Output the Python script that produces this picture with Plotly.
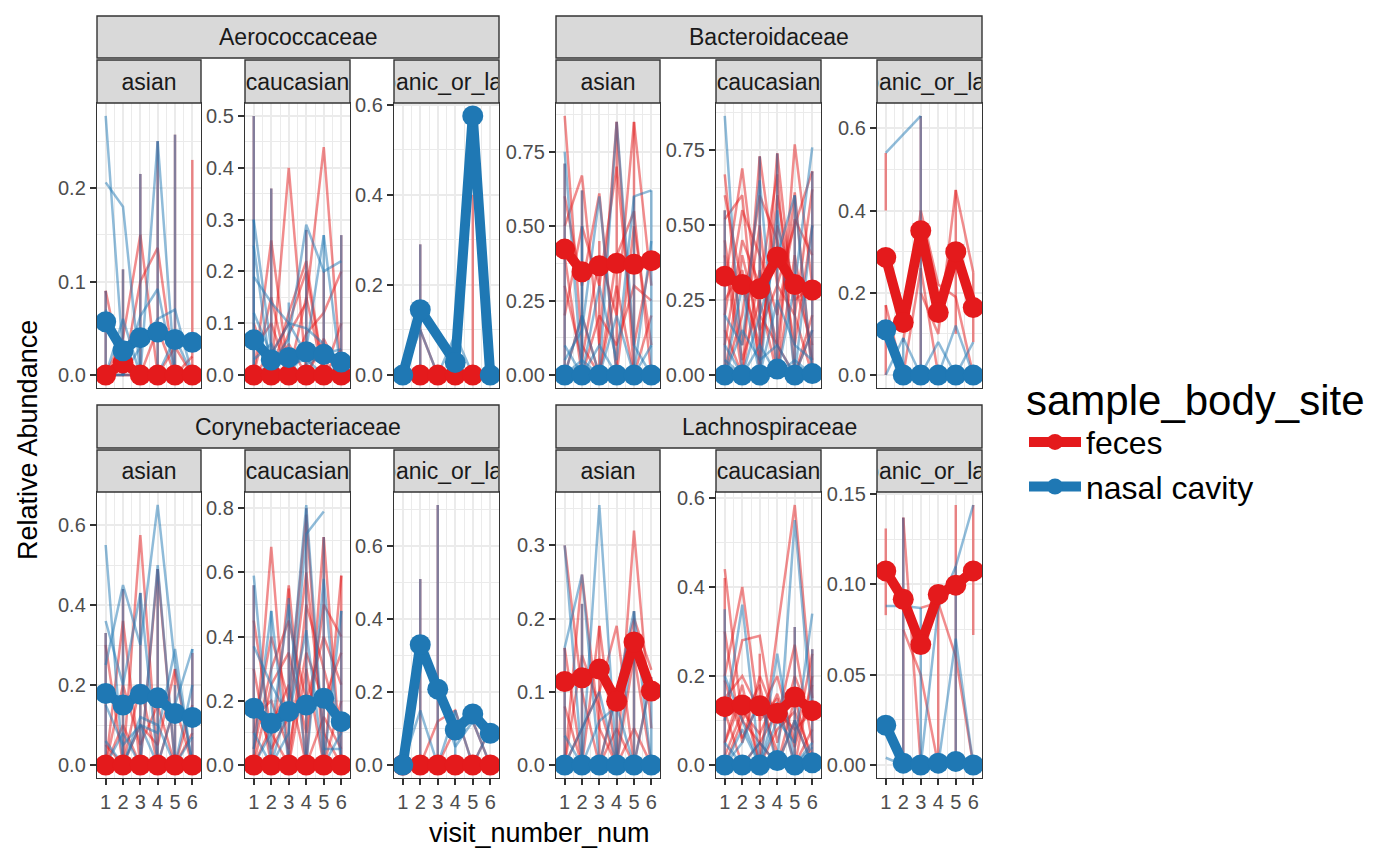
import plotly.graph_objects as go

W, H = 1400, 866
FONT = "Liberation Sans, Arial, sans-serif"
RED = "#E41A1C"
BLUE = "#1F78B4"
RED_THIN = "rgba(228,26,28,0.5)"
BLUE_THIN = "rgba(31,120,180,0.5)"

FAMILIES = ["Aerococcaceae", "Bacteroidaceae", "Corynebacteriaceae", "Lachnospiraceae"]
ETHNICITIES = ["asian", "caucasian", "hispanic_or_latino"]
VISITS = [1, 2, 3, 4, 5, 6]

# ---- mean relative abundance per visit (thick lines) ----
aero_asian_feces_mean = [0.0, 0.013, 0.0, 0.0, 0.0, 0.0]
aero_asian_nasal_mean = [0.057, 0.026, 0.040, 0.046, 0.038, 0.035]
aero_cauc_feces_mean = [0.0, 0.0, 0.0, 0.0, 0.0, 0.0]
aero_cauc_nasal_mean = [0.068, 0.029, 0.034, 0.045, 0.040, 0.025]
aero_hisp_feces_mean = [None, 0.0, 0.0, 0.0, 0.0, None]
aero_hisp_nasal_mean = [0.0, 0.145, None, 0.028, 0.575, 0.0]

bact_asian_feces_mean = [0.423, 0.347, 0.367, 0.375, 0.372, 0.384]
bact_asian_nasal_mean = [0.0, 0.0, 0.0, 0.0, 0.0, 0.0]
bact_cauc_feces_mean = [0.330, 0.302, 0.288, 0.394, 0.302, 0.284]
bact_cauc_nasal_mean = [0.0, 0.0, 0.0, 0.02, 0.0, 0.005]
bact_hisp_feces_mean = [0.286, 0.128, 0.351, 0.152, 0.300, 0.164]
bact_hisp_nasal_mean = [0.11, 0.0, 0.0, 0.0, 0.0, 0.0]

cory_asian_feces_mean = [0.0, 0.0, 0.0, 0.0, 0.0, 0.0]
cory_asian_nasal_mean = [0.179, 0.150, 0.177, 0.168, 0.129, 0.119]
cory_cauc_feces_mean = [0.0, 0.0, 0.0, 0.0, 0.0, 0.0]
cory_cauc_nasal_mean = [0.177, 0.130, 0.167, 0.187, 0.208, 0.135]
cory_hisp_feces_mean = [0.0, 0.0, 0.0, 0.0, 0.0, 0.0]
cory_hisp_nasal_mean = [0.0, 0.330, 0.208, 0.096, 0.140, 0.087]

lach_asian_feces_mean = [0.114, 0.119, 0.131, 0.087, 0.168, 0.101]
lach_asian_nasal_mean = [0.0, 0.0, 0.0, 0.0, 0.0, 0.0]
lach_cauc_feces_mean = [0.131, 0.135, 0.133, 0.116, 0.153, 0.122]
lach_cauc_nasal_mean = [0.0, 0.0, 0.0, 0.01, 0.0, 0.005]
lach_hisp_feces_mean = [0.1075, 0.0918, 0.0667, 0.0945, 0.0996, 0.1075]
lach_hisp_nasal_mean = [0.022, 0.001, 0.0, 0.001, 0.002, 0.0]

# ---- individual subjects (thin lines), one row per subject, visits 1..6 ----
aero_asian_feces_rows = [
    [0.09, 0.0, 0.0, 0.0, 0.0, 0.0],
    [0.0, 0.04, 0.15, 0.0, 0.0, 0.0],
    [0.0, 0.0, 0.10, 0.136, 0.0, 0.0],
    [0.0, 0.0, 0.0, 0.05, 0.0, 0.02],
    [0.0, 0.02, 0.0, 0.0, 0.03, 0.0],
]
aero_asian_nasal_rows = [
    [0.277, 0.02, 0.0, 0.0, 0.0, 0.0],
    [0.206, 0.18, 0.0, 0.0, 0.0, 0.0],
    [0.07, 0.0, 0.03, 0.06, 0.07, 0.0],
    [0.0, 0.0, 0.063, 0.092, 0.0, 0.0],
    [0.0, 0.06, 0.0, 0.25, 0.0, 0.0],
    [0.0, 0.0, 0.0, 0.0, 0.04, 0.0],
]
aero_cauc_feces_rows = [
    [0.0, 0.26, 0.0, 0.0, 0.0, 0.0],
    [0.0, 0.0, 0.40, 0.0, 0.0, 0.0],
    [0.05, 0.10, 0.0, 0.15, 0.0, 0.0],
    [0.0, 0.04, 0.10, 0.20, 0.0, 0.05],
    [0.0, 0.0, 0.08, 0.14, 0.44, 0.0],
    [0.0, 0.02, 0.0, 0.08, 0.12, 0.20],
    [0.10, 0.0, 0.06, 0.0, 0.06, 0.0],
    [0.0, 0.0, 0.12, 0.22, 0.0, 0.10],
    [0.0, 0.15, 0.0, 0.0, 0.07, 0.0],
]
aero_cauc_nasal_rows = [
    [0.19, 0.14, 0.10, 0.09, 0.06, 0.01],
    [0.30, 0.05, 0.02, 0.03, 0.0, 0.0],
    [0.12, 0.04, 0.10, 0.04, 0.02, 0.0],
    [0.0, 0.02, 0.07, 0.29, 0.20, 0.22],
    [0.25, 0.0, 0.0, 0.05, 0.27, 0.0],
    [0.03, 0.06, 0.0, 0.02, 0.04, 0.05],
]
aero_hisp_feces_rows = [
    [None, 0.10, 0.0, 0.0, 0.0, None],
]
aero_hisp_nasal_rows = [
    [0.0, 0.10, 0.0, 0.09, 0.0, 0.0],
]

bact_asian_feces_rows = [
    [0.87, 0.10, 0.0, 0.30, 0.0, 0.20],
    [0.60, 0.30, 0.61, 0.0, 0.50, 0.10],
    [0.50, 0.67, 0.10, 0.85, 0.0, 0.0],
    [0.30, 0.05, 0.40, 0.20, 0.85, 0.30],
    [0.20, 0.50, 0.30, 0.70, 0.10, 0.40],
    [0.0, 0.20, 0.0, 0.40, 0.55, 0.0],
    [0.40, 0.0, 0.20, 0.10, 0.30, 0.25],
]
bact_asian_nasal_rows = [
    [0.75, 0.0, 0.10, 0.0, 0.0, 0.0],
    [0.05, 0.15, 0.60, 0.0, 0.0, 0.10],
    [0.0, 0.20, 0.0, 0.85, 0.10, 0.0],
    [0.10, 0.0, 0.30, 0.05, 0.60, 0.62],
    [0.0, 0.05, 0.0, 0.20, 0.0, 0.45],
]
bact_cauc_feces_rows = [
    [0.67, 0.10, 0.50, 0.0, 0.77, 0.30],
    [0.52, 0.60, 0.0, 0.74, 0.20, 0.62],
    [0.30, 0.69, 0.20, 0.10, 0.61, 0.0],
    [0.40, 0.0, 0.73, 0.30, 0.50, 0.68],
    [0.10, 0.45, 0.30, 0.67, 0.0, 0.20],
    [0.60, 0.30, 0.10, 0.50, 0.30, 0.10],
    [0.20, 0.55, 0.40, 0.20, 0.52, 0.40],
    [0.0, 0.20, 0.60, 0.45, 0.10, 0.50],
    [0.45, 0.05, 0.25, 0.0, 0.40, 0.05],
    [0.25, 0.35, 0.05, 0.60, 0.25, 0.30],
    [0.15, 0.0, 0.35, 0.10, 0.0, 0.15],
    [0.0, 0.40, 0.15, 0.30, 0.20, 0.0],
]
bact_cauc_nasal_rows = [
    [0.865, 0.0, 0.10, 0.0, 0.05, 0.0],
    [0.20, 0.10, 0.65, 0.0, 0.30, 0.76],
    [0.0, 0.30, 0.0, 0.55, 0.0, 0.15],
    [0.10, 0.0, 0.20, 0.40, 0.60, 0.0],
    [0.0, 0.15, 0.05, 0.10, 0.0, 0.50],
    [0.05, 0.0, 0.0, 0.25, 0.10, 0.05],
]
bact_hisp_feces_rows = [
    [0.17, 0.0, 0.26, 0.0, 0.0, 0.0],
    [None, 0.08, 0.40, 0.22, 0.19, 0.0],
    [None, None, 0.20, 0.10, 0.45, 0.25],
]
bact_hisp_nasal_rows = [
    [0.54, None, 0.63, None, None, None],
    [0.0, 0.09, 0.0, 0.08, 0.0, 0.08],
    [0.11, 0.0, 0.0, 0.0, 0.12, 0.0],
]

cory_asian_feces_rows = [
    [0.0, 0.36, 0.0, 0.0, 0.0, 0.0],
    [0.0, 0.0, 0.575, 0.0, 0.15, 0.0],
    [0.30, 0.0, 0.20, 0.0, 0.0, 0.15],
    [0.0, 0.10, 0.0, 0.49, 0.0, 0.0],
    [0.05, 0.0, 0.10, 0.05, 0.24, 0.0],
    [0.0, 0.20, 0.05, 0.15, 0.0, 0.08],
]
cory_asian_nasal_rows = [
    [0.55, 0.0, 0.10, 0.0, 0.0, 0.0],
    [0.36, 0.20, 0.43, 0.0, 0.15, 0.29],
    [0.25, 0.45, 0.30, 0.65, 0.25, 0.0],
    [0.06, 0.0, 0.12, 0.10, 0.0, 0.07],
    [0.0, 0.08, 0.0, 0.50, 0.0, 0.20],
    [0.15, 0.05, 0.10, 0.08, 0.29, 0.0],
]
cory_cauc_feces_rows = [
    [0.0, 0.68, 0.0, 0.30, 0.0, 0.20],
    [0.30, 0.0, 0.56, 0.0, 0.71, 0.0],
    [0.10, 0.40, 0.20, 0.78, 0.0, 0.59],
    [0.45, 0.10, 0.0, 0.50, 0.30, 0.10],
    [0.0, 0.25, 0.35, 0.10, 0.50, 0.40],
    [0.20, 0.05, 0.15, 0.60, 0.10, 0.0],
    [0.05, 0.30, 0.45, 0.20, 0.40, 0.25],
    [0.15, 0.20, 0.05, 0.35, 0.20, 0.35],
    [0.0, 0.12, 0.25, 0.0, 0.15, 0.05],
]
cory_cauc_nasal_rows = [
    [0.59, 0.0, 0.10, 0.72, 0.79, None],
    [0.37, 0.25, 0.15, 0.42, 0.0, 0.10],
    [0.05, 0.48, 0.0, 0.0, 0.58, 0.0],
    [0.0, 0.10, 0.50, 0.0, 0.0, 0.48],
    [0.10, 0.0, 0.20, 0.81, 0.05, 0.05],
]
cory_hisp_feces_rows = [
    [0.0, 0.0, 0.12, 0.15, 0.0, 0.10],
    [None, 0.02, 0.0, 0.10, 0.12, 0.0],
]
cory_hisp_nasal_rows = [
    [0.0, 0.15, 0.0, 0.15, 0.0, 0.10],
    [0.0, 0.33, 0.20, 0.05, 0.12, 0.0],
]

lach_asian_feces_rows = [
    [0.30, 0.10, 0.0, 0.05, 0.0, 0.0],
    [0.0, 0.26, 0.05, 0.0, 0.15, 0.0],
    [0.16, 0.0, 0.19, 0.0, 0.32, 0.05],
    [0.0, 0.05, 0.10, 0.19, 0.0, 0.12],
    [0.08, 0.0, 0.0, 0.10, 0.20, 0.13],
    [0.0, 0.15, 0.08, 0.0, 0.05, 0.0],
]
lach_asian_nasal_rows = [
    [0.30, 0.0, 0.0, 0.0, 0.0, 0.0],
    [0.0, 0.0, 0.355, 0.0, 0.0, 0.0],
    [0.16, 0.26, 0.0, 0.10, 0.21, 0.0],
    [0.0, 0.05, 0.10, 0.0, 0.18, 0.10],
    [0.04, 0.0, 0.06, 0.08, 0.0, 0.12],
]
lach_cauc_feces_rows = [
    [0.44, 0.10, 0.05, 0.0, 0.10, 0.0],
    [0.20, 0.40, 0.10, 0.15, 0.0, 0.20],
    [0.10, 0.28, 0.29, 0.05, 0.20, 0.10],
    [0.05, 0.15, 0.0, 0.30, 0.584, 0.15],
    [0.30, 0.05, 0.20, 0.10, 0.27, 0.05],
    [0.15, 0.20, 0.12, 0.20, 0.05, 0.25],
    [0.0, 0.10, 0.18, 0.0, 0.15, 0.0],
    [0.12, 0.0, 0.05, 0.12, 0.08, 0.12],
    [0.05, 0.18, 0.0, 0.08, 0.12, 0.02],
    [0.19, 0.06, 0.14, 0.03, 0.0, 0.08],
    [0.02, 0.12, 0.07, 0.16, 0.04, 0.18],
]
lach_cauc_nasal_rows = [
    [0.10, 0.36, 0.0, 0.25, 0.0, 0.05],
    [0.0, 0.05, 0.15, 0.0, 0.55, 0.10],
    [0.20, 0.10, 0.0, 0.10, 0.05, 0.34],
    [0.05, 0.0, 0.05, 0.0, 0.10, 0.0],
    [0.0, 0.08, 0.0, 0.14, 0.0, 0.04],
]
lach_hisp_feces_rows = [
    [None, 0.075, 0.05, 0.0, None, None],
    [None, None, 0.087, 0.09, 0.06, 0.0],
    [None, 0.137, 0.0, None, None, None],
]
lach_hisp_nasal_rows = [
    [0.088, 0.088, 0.087, None, None, None],
    [0.004, 0.0, 0.0, 0.087, 0.11, 0.144],
    [None, None, 0.0, 0.0, 0.07, 0.0],
]

# ---- repeated samples within one visit: [visit, low, high] ----
aero_asian_feces_spikes = [[1, 0, 0.09], [2, 0, 0.113], [3, 0, 0.215], [4, 0, 0.25], [5, 0, 0.257], [6, 0, 0.23]]
aero_asian_nasal_spikes = [[1, 0, 0.09], [2, 0, 0.113], [3, 0, 0.215], [4, 0, 0.25], [5, 0, 0.257]]
aero_cauc_feces_spikes = [[1, 0, 0.5], [2, 0, 0.36], [4, 0, 0.28], [5, 0, 0.2], [6, 0, 0.27]]
aero_cauc_nasal_spikes = [[1, 0, 0.5], [1, 0, 0.3], [2, 0, 0.36], [3, 0, 0.14], [4, 0, 0.28], [5, 0, 0.27], [6, 0, 0.27]]
aero_hisp_feces_spikes = [[2, 0, 0.29], [5, 0, 0.40]]
aero_hisp_nasal_spikes = [[2, 0, 0.29]]

bact_asian_feces_spikes = [[1, 0, 0.71], [2, 0, 0.62], [3, 0, 0.45], [4, 0, 0.85], [5, 0, 0.85]]
bact_asian_nasal_spikes = [[1, 0, 0.71], [2, 0, 0.62], [2, 0, 0.50], [5, 0, 0.60], [6, 0, 0.62]]
bact_cauc_feces_spikes = [[1, 0, 0.55], [3, 0, 0.73], [4, 0, 0.74], [5, 0, 0.60], [6, 0, 0.68]]
bact_cauc_nasal_spikes = [[1, 0, 0.55], [3, 0, 0.73], [4, 0, 0.74], [5, 0, 0.60], [6, 0, 0.68]]
bact_hisp_feces_spikes = [[1, 0.40, 0.54], [1, 0, 0.17], [3, 0, 0.63], [5, 0.10, 0.45], [6, 0.08, 0.25]]
bact_hisp_nasal_spikes = [[3, 0, 0.63], [2, 0, 0.09]]

cory_asian_feces_spikes = [[1, 0, 0.33], [2, 0, 0.44], [3, 0, 0.43], [4, 0, 0.49], [5, 0, 0.24], [6, 0, 0.28]]
cory_asian_nasal_spikes = [[1, 0, 0.33], [2, 0, 0.44], [3, 0, 0.43], [4, 0, 0.49], [5, 0, 0.20], [6, 0, 0.29]]
cory_cauc_feces_spikes = [[1, 0, 0.56], [3, 0, 0.55], [4, 0, 0.80], [5, 0, 0.71], [6, 0, 0.59]]
cory_cauc_nasal_spikes = [[1, 0, 0.56], [2, 0, 0.48], [3, 0, 0.52], [4, 0, 0.80], [5, 0, 0.71], [6, 0, 0.48]]
cory_hisp_feces_spikes = [[2, 0, 0.51], [3, 0, 0.713]]
cory_hisp_nasal_spikes = [[2, 0, 0.51], [3, 0, 0.713], [4, 0, 0.15]]

lach_asian_feces_spikes = [[1, 0, 0.16], [2, 0, 0.22], [3, 0, 0.19], [4, 0, 0.10], [5, 0, 0.21]]
lach_asian_nasal_spikes = [[1, 0, 0.16], [2, 0, 0.22], [4, 0, 0.10], [5, 0, 0.21], [6, 0, 0.10]]
lach_cauc_feces_spikes = [[1, 0, 0.42], [3, 0, 0.25], [5, 0, 0.31], [6, 0, 0.26]]
lach_cauc_nasal_spikes = [[1, 0, 0.35], [5, 0, 0.31], [6, 0, 0.26]]
lach_hisp_feces_spikes = [[1, 0.083, 0.131], [2, 0, 0.137], [4, 0, 0.09], [5, 0, 0.144], [6, 0.072, 0.144]]
lach_hisp_nasal_spikes = [[2, 0, 0.137], [3, 0, 0.087], [5, 0, 0.11]]

PANELS = [
    ("Aerococcaceae", "asian", aero_asian_feces_mean, aero_asian_nasal_mean, aero_asian_feces_rows, aero_asian_nasal_rows, aero_asian_feces_spikes, aero_asian_nasal_spikes),
    ("Aerococcaceae", "caucasian", aero_cauc_feces_mean, aero_cauc_nasal_mean, aero_cauc_feces_rows, aero_cauc_nasal_rows, aero_cauc_feces_spikes, aero_cauc_nasal_spikes),
    ("Aerococcaceae", "hispanic_or_latino", aero_hisp_feces_mean, aero_hisp_nasal_mean, aero_hisp_feces_rows, aero_hisp_nasal_rows, aero_hisp_feces_spikes, aero_hisp_nasal_spikes),
    ("Bacteroidaceae", "asian", bact_asian_feces_mean, bact_asian_nasal_mean, bact_asian_feces_rows, bact_asian_nasal_rows, bact_asian_feces_spikes, bact_asian_nasal_spikes),
    ("Bacteroidaceae", "caucasian", bact_cauc_feces_mean, bact_cauc_nasal_mean, bact_cauc_feces_rows, bact_cauc_nasal_rows, bact_cauc_feces_spikes, bact_cauc_nasal_spikes),
    ("Bacteroidaceae", "hispanic_or_latino", bact_hisp_feces_mean, bact_hisp_nasal_mean, bact_hisp_feces_rows, bact_hisp_nasal_rows, bact_hisp_feces_spikes, bact_hisp_nasal_spikes),
    ("Corynebacteriaceae", "asian", cory_asian_feces_mean, cory_asian_nasal_mean, cory_asian_feces_rows, cory_asian_nasal_rows, cory_asian_feces_spikes, cory_asian_nasal_spikes),
    ("Corynebacteriaceae", "caucasian", cory_cauc_feces_mean, cory_cauc_nasal_mean, cory_cauc_feces_rows, cory_cauc_nasal_rows, cory_cauc_feces_spikes, cory_cauc_nasal_spikes),
    ("Corynebacteriaceae", "hispanic_or_latino", cory_hisp_feces_mean, cory_hisp_nasal_mean, cory_hisp_feces_rows, cory_hisp_nasal_rows, cory_hisp_feces_spikes, cory_hisp_nasal_spikes),
    ("Lachnospiraceae", "asian", lach_asian_feces_mean, lach_asian_nasal_mean, lach_asian_feces_rows, lach_asian_nasal_rows, lach_asian_feces_spikes, lach_asian_nasal_spikes),
    ("Lachnospiraceae", "caucasian", lach_cauc_feces_mean, lach_cauc_nasal_mean, lach_cauc_feces_rows, lach_cauc_nasal_rows, lach_cauc_feces_spikes, lach_cauc_nasal_spikes),
    ("Lachnospiraceae", "hispanic_or_latino", lach_hisp_feces_mean, lach_hisp_nasal_mean, lach_hisp_feces_rows, lach_hisp_nasal_rows, lach_hisp_feces_spikes, lach_hisp_nasal_spikes),
]

# y tick step and format per panel (same order as PANELS)
Y_DTICK = [0.1, 0.1, 0.2, 0.25, 0.25, 0.2, 0.2, 0.2, 0.2, 0.1, 0.2, 0.05]
Y_FMT = [".1f", ".1f", ".1f", ".2f", ".2f", ".1f", ".1f", ".1f", ".1f", ".1f", ".1f", ".2f"]

# layout in pixels
COL_X = [(97, 201), (245, 350), (394, 499), (556, 660), (716, 821), (877, 982)]
GROUP_X = [(97, 499), (556, 982)]
ROW_PLOT_Y = [(103, 388), (492, 778)]
ROW_FAM_Y = [(16, 58), (405, 448)]
ROW_SUB_Y = [(60, 103), (450, 492)]


def px_x(p):
    return p / W


def px_y(p):
    return 1 - p / H


def thin_xy(rows, spikes):
    xs, ys = [], []
    for row in rows:
        for v, val in zip(VISITS, row):
            if val is not None:
                xs.append(v)
                ys.append(val)
        xs.append(None)
        ys.append(None)
    for x, y0, y1 in spikes:
        xs += [x, x, None]
        ys += [y0, y1, None]
    return xs, ys


def all_values(*groups):
    out = []
    for g in groups:
        for item in g:
            if isinstance(item, list):
                out += [v for v in item if v is not None]
            elif item is not None:
                out.append(item)
    return out


fig = go.Figure()
shapes = []
annotations = []
mean_traces = []

for i, (fam, eth, f_mean, n_mean, f_rows, n_rows, f_sp, n_sp) in enumerate(PANELS):
    k = "" if i == 0 else str(i + 1)
    fi = FAMILIES.index(fam)
    ei = ETHNICITIES.index(eth)
    row = fi // 2
    group = fi % 2
    col = group * 3 + ei
    x0, x1 = COL_X[col]
    y0, y1 = ROW_PLOT_Y[row]

    # thin subject lines
    for rows, spikes, color in ((f_rows, f_sp, RED_THIN), (n_rows, n_sp, BLUE_THIN)):
        xs, ys = thin_xy(rows, spikes)
        fig.add_trace(go.Scatter(x=xs, y=ys, mode="lines", line=dict(color=color, width=2.5),
                                 xaxis="x" + k, yaxis="y" + k, showlegend=False, hoverinfo="skip"))

    # means (drawn after all thin lines)
    for mean, color, name in ((f_mean, RED, "feces"), (n_mean, BLUE, "nasal cavity")):
        xs = [v for v, m in zip(VISITS, mean) if m is not None]
        ys = [m for m in mean if m is not None]
        mean_traces.append(go.Scatter(x=xs, y=ys, mode="lines+markers", name=name,
                                      line=dict(color=color, width=10),
                                      marker=dict(color=color, size=21),
                                      xaxis="x" + k, yaxis="y" + k,
                                      legendgroup=name, showlegend=(i == 0)))

    # axis ranges like ggplot (5% expansion)
    vals = all_values(f_mean, n_mean, f_rows, n_rows) + [s[2] for s in f_sp + n_sp]
    top = max(vals)
    lo, hi = -0.05 * top, 1.05 * top
    bottom_row = row == 1
    dt = Y_DTICK[i]

    fig.layout["xaxis" + k] = dict(
        domain=[px_x(x0), px_x(x1)], anchor="y" + k, range=[0.5, 6.5],
        tickmode="array", tickvals=VISITS, ticktext=[str(v) for v in VISITS],
        showticklabels=bottom_row, ticks="outside" if bottom_row else "",
        ticklen=6, tickwidth=2, tickcolor="#333333",
        tickfont=dict(size=20, color="#4D4D4D", family=FONT),
        showgrid=True, gridcolor="#EBEBEB", gridwidth=2.2,
        minor=dict(tickmode="array", tickvals=[1.5, 2.5, 3.5, 4.5, 5.5],
                   showgrid=True, gridcolor="#EBEBEB", gridwidth=1.1),
        showline=True, mirror=True, linecolor="#333333", linewidth=1.4,
        zeroline=False, fixedrange=True, automargin=False,
    )
    fig.layout["yaxis" + k] = dict(
        domain=[px_y(y1), px_y(y0)], anchor="x" + k, range=[lo, hi],
        tickmode="linear", tick0=0, dtick=dt, tickformat=Y_FMT[i],
        ticks="outside", ticklen=6, tickwidth=2, tickcolor="#333333",
        tickfont=dict(size=20, color="#4D4D4D", family=FONT),
        showgrid=True, gridcolor="#EBEBEB", gridwidth=2.2,
        minor=dict(tick0=dt / 2, dtick=dt, showgrid=True, gridcolor="#EBEBEB", gridwidth=1.1),
        showline=True, mirror=True, linecolor="#333333", linewidth=1.4,
        zeroline=False, fixedrange=True, automargin=False,
    )

    # ethnicity strip
    sy0, sy1 = ROW_SUB_Y[row]
    shapes.append(dict(type="rect", xref="paper", yref="paper",
                       x0=px_x(x0), x1=px_x(x1), y0=px_y(sy1), y1=px_y(sy0),
                       fillcolor="#D9D9D9", line=dict(color="#333333", width=1.4), layer="above"))
    annotations.append(dict(text=eth, xref="paper", yref="paper",
                            x=px_x((x0 + x1) / 2), y=px_y((sy0 + sy1) / 2),
                            xanchor="center", yanchor="middle", showarrow=False,
                            width=x1 - x0 - 2, align="center",
                            font=dict(size=23, color="#1A1A1A", family=FONT)))

# family strips
for fi, fam in enumerate(FAMILIES):
    row = fi // 2
    gx0, gx1 = GROUP_X[fi % 2]
    fy0, fy1 = ROW_FAM_Y[row]
    shapes.append(dict(type="rect", xref="paper", yref="paper",
                       x0=px_x(gx0), x1=px_x(gx1), y0=px_y(fy1), y1=px_y(fy0),
                       fillcolor="#D9D9D9", line=dict(color="#333333", width=1.4), layer="above"))
    annotations.append(dict(text=fam, xref="paper", yref="paper",
                            x=px_x((gx0 + gx1) / 2), y=px_y((fy0 + fy1) / 2),
                            xanchor="center", yanchor="middle", showarrow=False,
                            font=dict(size=23, color="#1A1A1A", family=FONT)))

for tr in mean_traces:
    fig.add_trace(tr)

# axis titles
annotations.append(dict(text="visit_number_num", xref="paper", yref="paper",
                        x=px_x(539.5), y=px_y(833), xanchor="center", yanchor="middle",
                        showarrow=False, font=dict(size=27, color="black", family=FONT)))
annotations.append(dict(text="Relative Abundance", xref="paper", yref="paper",
                        x=px_x(28), y=px_y(440), xanchor="center", yanchor="middle",
                        textangle=-90, showarrow=False,
                        font=dict(size=27, color="black", family=FONT)))

fig.update_layout(
    width=W, height=H,
    margin=dict(l=0, r=0, t=0, b=0, autoexpand=False),
    paper_bgcolor="white", plot_bgcolor="white",
    font=dict(family=FONT),
    shapes=shapes, annotations=annotations,
    legend=dict(
        title=dict(text="sample_body_site", font=dict(size=42, color="black", family=FONT)),
        font=dict(size=32, color="black", family=FONT),
        x=px_x(1024), y=px_y(360), xanchor="left", yanchor="top",
        itemwidth=52, bgcolor="rgba(0,0,0,0)", tracegroupgap=0,
    ),
)

# the page body has a default 8px margin; drop it so the figure sits at 0,0
fig.write_html("out.html", config={"displayModeBar": False},
               post_script="document.body.style.margin = '0px';")
